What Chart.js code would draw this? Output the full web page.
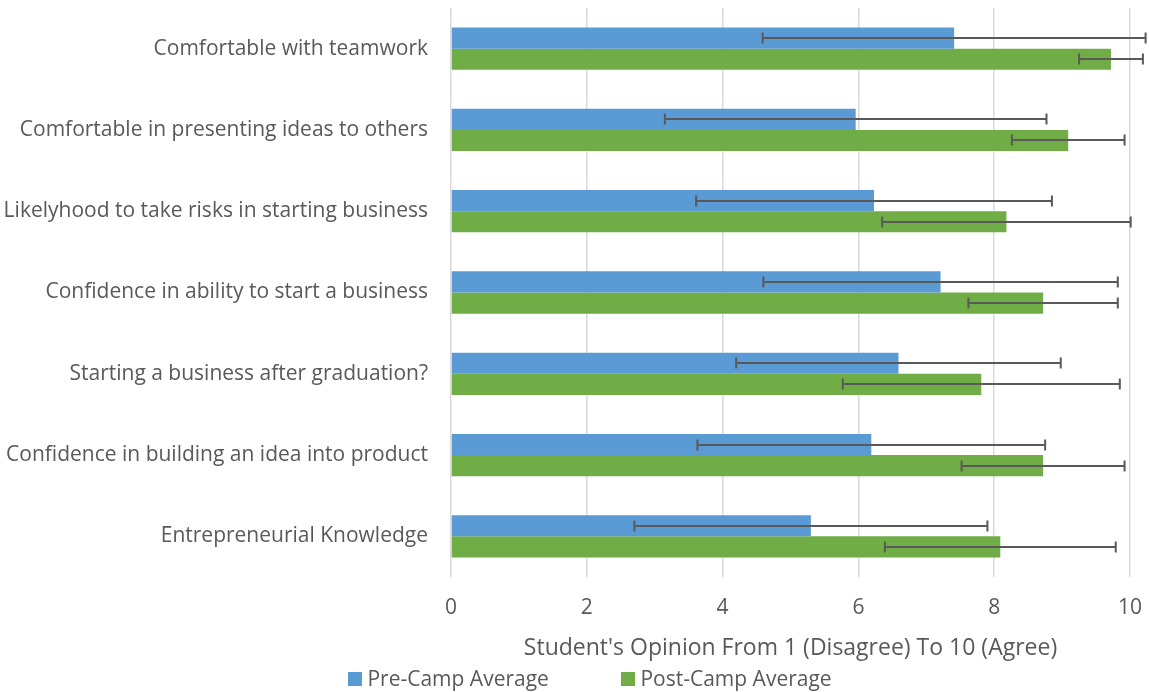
<!DOCTYPE html>
<html>
<head>
<meta charset="utf-8">
<script src="https://cdn.jsdelivr.net/npm/chart.js@4/dist/chart.umd.min.js"></script>
<style>
    html, body { margin: 0; padding: 0; background: #fff; }
    #wrap { position: relative; width: 1149px; height: 692px; }
    .legend-item {
        position: absolute;
        top: 664px;
        height: 28px;
        line-height: 28px;
        font-family: 'Open Sans', sans-serif;
        font-size: 21px;
        color: #595959;
        white-space: nowrap;
    }
    .legend-box {
        display: inline-block;
        width: 14px;
        height: 14px;
        vertical-align: middle;
        margin-top: -3px;
    }
</style>
</head>
<body>
<div id="wrap">
    <canvas id="chart" width="1149" height="692"></canvas>
    <div id="legend"></div>
</div>
<script>
const categories = [
    'Comfortable with teamwork',
    'Comfortable in presenting ideas to others',
    'Likelyhood to take risks in starting business',
    'Confidence in ability to start a business',
    'Starting a business after graduation?',
    'Confidence in building an idea into product',
    'Entrepreneurial Knowledge'
];
const preAvg = [7.41, 5.96, 6.23, 7.21, 6.59, 6.19, 5.30];
const preErr = [2.82, 2.81, 2.62, 2.61, 2.39, 2.56, 2.60];
const postAvg = [9.72, 9.09, 8.18, 8.72, 7.81, 8.72, 8.09];
const postErr = [0.47, 0.83, 1.83, 1.10, 2.04, 1.20, 1.70];
const xTicks = [0, 2, 4, 6, 8, 10];
const seriesNames = ['Pre-Camp Average', 'Post-Camp Average'];
const seriesColors = ['#5B9BD5', '#70AD47'];

const errors = [preErr, postErr];

// error bars drawn on top of the bars using the x scale
const errorBarPlugin = {
    id: 'errorBars',
    afterDatasetsDraw(chart) {
        const ctx = chart.ctx;
        const xScale = chart.scales.x;
        ctx.save();
        ctx.strokeStyle = '#595959';
        ctx.lineWidth = 2;
        chart.data.datasets.forEach((ds, di) => {
            const meta = chart.getDatasetMeta(di);
            meta.data.forEach((bar, i) => {
                const v = ds.data[i];
                const e = errors[di][i];
                const x1 = xScale.getPixelForValue(v - e);
                const x2 = xScale.getPixelForValue(v + e);
                const y = Math.round(bar.y);
                ctx.beginPath();
                ctx.moveTo(x1, y);
                ctx.lineTo(x2, y);
                ctx.moveTo(x1, y - 5.5);
                ctx.lineTo(x1, y + 5.5);
                ctx.moveTo(x2, y - 5.5);
                ctx.lineTo(x2, y + 5.5);
                ctx.stroke();
            });
        });
        ctx.restore();
    }
};

new Chart(document.getElementById('chart').getContext('2d'), {
    type: 'bar',
    data: {
        labels: categories,
        datasets: [
            {
                label: seriesNames[0],
                data: preAvg,
                backgroundColor: seriesColors[0],
                borderWidth: 0,
                categoryPercentage: 0.52,
                barPercentage: 1.0
            },
            {
                label: seriesNames[1],
                data: postAvg,
                backgroundColor: seriesColors[1],
                borderWidth: 0,
                categoryPercentage: 0.52,
                barPercentage: 1.0
            }
        ]
    },
    options: {
        indexAxis: 'y',
        responsive: false,
        animation: false,
        layout: {
            padding: { top: 8, right: 19, left: 5, bottom: 30 }
        },
        plugins: {
            tooltip: { enabled: false },
            legend: { display: false }
        },
        scales: {
            x: {
                min: 0,
                max: 10,
                afterBuildTicks(scale) {
                    scale.ticks = xTicks.map(v => ({ value: v }));
                },
                afterFit(scale) {
                    scale.height = 85;
                    scale.paddingLeft = 0;
                    scale.paddingRight = 0;
                },
                grid: { color: '#d9d9d9', lineWidth: 1.5, drawTicks: false },
                border: { display: false },
                ticks: {
                    color: '#595959',
                    padding: 18,
                    maxRotation: 0,
                    minRotation: 0,
                    font: { family: 'Open Sans', size: 21 }
                },
                title: {
                    display: true,
                    text: "Student's Opinion From 1 (Disagree) To 10 (Agree)",
                    color: '#595959',
                    font: { family: 'Open Sans', size: 23 },
                    padding: { top: 13, bottom: 0 }
                }
            },
            y: {
                afterFit(scale) {
                    scale.width = 446;
                    scale.paddingTop = 0;
                    scale.paddingBottom = 0;
                },
                grid: { display: false, drawTicks: false },
                border: { display: false },
                ticks: {
                    color: '#595959',
                    padding: 23,
                    font: { family: 'Open Sans', size: 21 }
                }
            }
        }
    },
    plugins: [errorBarPlugin]
});

// legend as plain html below the chart
const legendLeft = [348, 621];
const legend = document.getElementById('legend');
seriesNames.forEach((name, i) => {
    const item = document.createElement('div');
    item.className = 'legend-item';
    item.style.left = legendLeft[i] + 'px';
    item.innerHTML = `<span class="legend-box" style="background:${seriesColors[i]}"></span> ${name}`;
    legend.appendChild(item);
});
</script>
</body>
</html>
